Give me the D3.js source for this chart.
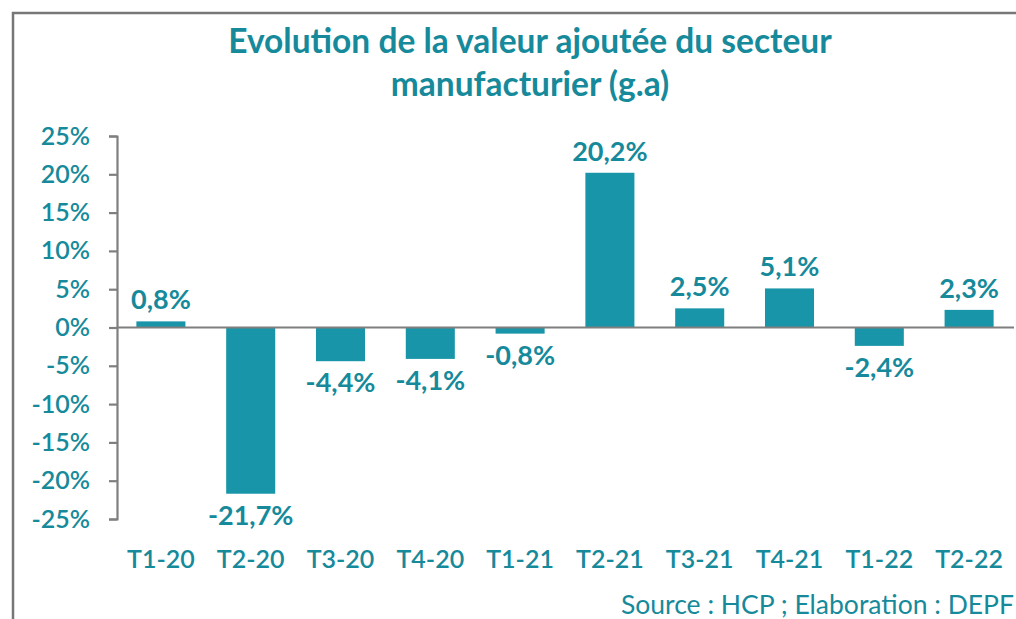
<!DOCTYPE html>
<html>
<head>
<meta charset="utf-8">
<script src="https://cdn.jsdelivr.net/npm/d3@7"></script>
<style>
  html, body { margin: 0; padding: 0; background: #fff; }
  svg { display: block; }
  text { font-family: Lato, "Open Sans", sans-serif; }
</style>
</head>
<body>
<svg id="chart" width="1016" height="619"></svg>
<script>
const categories = ["T1-20","T2-20","T3-20","T4-20","T1-21","T2-21","T3-21","T4-21","T1-22","T2-22"];
const values = [0.8, -21.7, -4.4, -4.1, -0.8, 20.2, 2.5, 5.1, -2.4, 2.3];
const valueLabels = ["0,8%","-21,7%","-4,4%","-4,1%","-0,8%","20,2%","2,5%","5,1%","-2,4%","2,3%"];
const yTicks = [25, 20, 15, 10, 5, 0, -5, -10, -15, -20, -25];
const titleLines = ["Evolution de la valeur ajoutée du secteur", "manufacturier (g.a)"];
const sourceText = "Source : HCP ; Elaboration : DEPF";

const svg = d3.select("#chart");
const teal = "#168a9b";
const barColor = "#1895a9";
const axisGray = "#7f7f7f";

// frame
svg.append("path")
  .attr("d", "M13,619 V13 H1016")
  .attr("fill", "none").attr("stroke", "#777").attr("stroke-width", 2.5);

const x = d3.scaleBand().domain(categories).range([116, 1014]).paddingInner(0.454).paddingOuter(0.227);
const y = d3.scaleLinear().domain([-25, 25]).range([519, 136]);

// title
svg.append("g").selectAll("text").data(titleLines).join("text")
  .attr("x", 530).attr("y", (d, i) => 53 + i * 43)
  .attr("text-anchor", "middle")
  .attr("fill", teal).attr("font-weight", "bold").attr("font-size", 33.5)
  .text(d => d);

// y axis
const yAxis = svg.append("g").attr("transform", "translate(117,0)")
  .call(d3.axisLeft(y).tickValues(yTicks).tickSize(8).tickPadding(19).tickFormat(d => d + "%"));
yAxis.select(".domain").attr("stroke", axisGray).attr("stroke-width", 2.2);
yAxis.selectAll(".tick line").attr("stroke", axisGray).attr("stroke-width", 2.2);
yAxis.selectAll(".tick text").attr("fill", teal).attr("font-size", 25).attr("font-weight", 600)
  .attr("font-family", "Lato, sans-serif");

// bars
svg.append("g").selectAll("rect").data(values).join("rect")
  .attr("x", (d, i) => x(categories[i]))
  .attr("width", x.bandwidth())
  .attr("y", d => y(Math.max(0, d)))
  .attr("height", d => Math.abs(y(d) - y(0)))
  .attr("fill", barColor);

// zero line
svg.append("line")
  .attr("x1", 117).attr("x2", 1014).attr("y1", y(0)).attr("y2", y(0))
  .attr("stroke", axisGray).attr("stroke-width", 2.2);

// value labels
svg.append("g").selectAll("text").data(values).join("text")
  .attr("x", (d, i) => x(categories[i]) + x.bandwidth() / 2)
  .attr("y", d => d >= 0 ? y(d) - 12 : y(d) + 31)
  .attr("text-anchor", "middle")
  .attr("fill", teal).attr("font-weight", "bold").attr("font-size", 27)
  .text((d, i) => valueLabels[i]);

// category labels
svg.append("g").selectAll("text").data(categories).join("text")
  .attr("x", d => x(d) + x.bandwidth() / 2)
  .attr("y", 568)
  .attr("text-anchor", "middle")
  .attr("fill", teal).attr("font-size", 25).attr("font-weight", 600)
  .text(d => d);

// source
svg.append("text")
  .attr("x", 1014).attr("y", 614)
  .attr("text-anchor", "end")
  .attr("fill", teal).attr("font-size", 26.5)
  .text(sourceText);
</script>
</body>
</html>
